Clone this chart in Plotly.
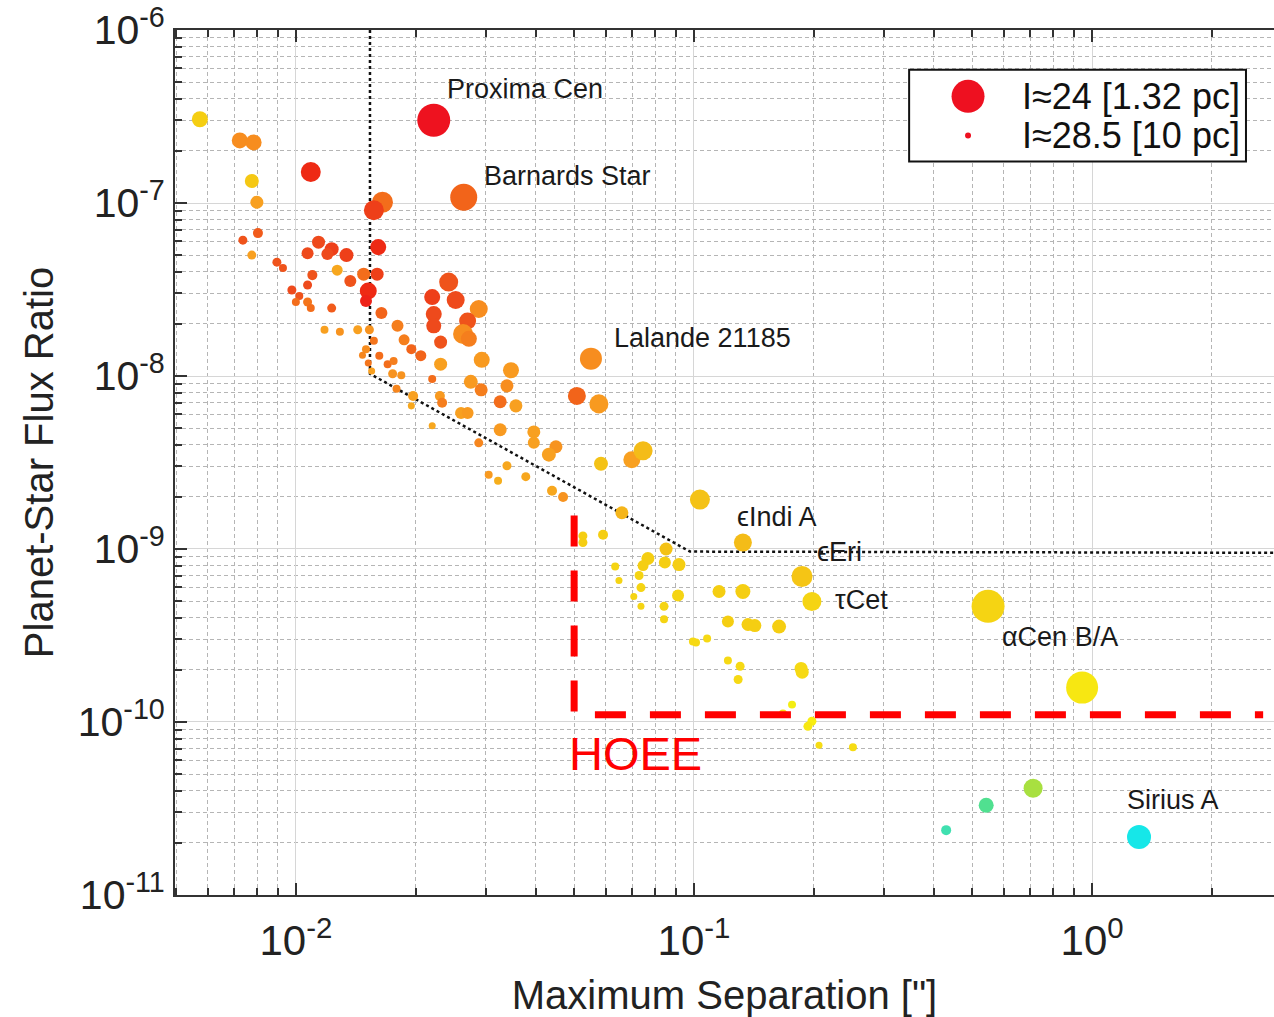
import numpy as np
import plotly.graph_objects as go

# ---------------- data ----------------
sep = [  # maximum separation [arcsec]
    5.74e-3, 7.23e-3, 7.83e-3, 7.75e-3, 7.98e-3, 1.09e-2, 2.22e-2, 2.64e-2, 1.65e-2, 1.57e-2,
    7.36e-3, 8.03e-3, 7.75e-3, 1.61e-2, 1.14e-2, 1.23e-2, 1.07e-2, 1.20e-2, 1.34e-2, 1.27e-2,
    8.96e-3, 9.28e-3, 1.10e-2, 1.07e-2, 1.37e-2, 1.48e-2, 1.60e-2, 9.77e-3, 1.02e-2, 1.00e-2,
    1.07e-2, 1.09e-2, 1.23e-2, 1.52e-2, 1.50e-2, 1.64e-2, 1.80e-2, 2.20e-2, 1.18e-2, 1.29e-2,
    1.43e-2, 1.53e-2, 1.87e-2, 1.95e-2, 2.06e-2, 1.57e-2, 1.50e-2, 1.47e-2, 1.62e-2, 1.52e-2,
    1.55e-2, 1.70e-2, 1.76e-2, 1.75e-2, 1.84e-2, 1.79e-2, 1.97e-2, 1.95e-2, 2.20e-2, 2.20e-2,
    2.42e-2, 2.52e-2, 2.88e-2, 2.22e-2, 2.70e-2, 2.22e-2, 2.63e-2, 2.72e-2, 2.31e-2, 2.93e-2,
    2.31e-2, 3.47e-2, 2.75e-2, 3.39e-2, 2.92e-2, 2.30e-2, 2.33e-2, 3.26e-2, 3.57e-2, 2.60e-2,
    2.70e-2, 5.51e-2, 5.08e-2, 5.77e-2, 3.26e-2, 2.88e-2, 3.96e-2, 3.96e-2, 4.50e-2, 4.32e-2,
    3.39e-2, 3.05e-2, 3.22e-2, 3.78e-2, 4.40e-2, 4.69e-2, 5.84e-2, 6.98e-2, 7.45e-2, 6.59e-2,
    5.26e-2, 5.26e-2, 5.91e-2, 0.1035, 0.1327, 8.51e-2, 7.66e-2, 7.45e-2, 8.45e-2, 9.17e-2,
    6.34e-2, 7.28e-2, 6.48e-2, 7.36e-2, 7.06e-2, 7.36e-2, 8.41e-2, 8.41e-2, 9.12e-2, 0.1868,
    0.1978, 0.1156, 0.1327, 0.1217, 0.1367, 0.1422, 0.1636, 9.94e-2, 0.1012, 0.1079,
    0.1217, 0.1306, 0.1291, 0.1858, 0.1870, 0.1763, 0.1673, 0.1978, 0.1933, 0.2061,
    0.2508, 0.548, 0.944, 0.711, 0.542, 0.430, 1.312]

flux = [  # planet-star flux ratio
    3.05e-7, 2.30e-7, 2.24e-7, 1.34e-7, 1.01e-7, 1.51e-7, 3.01e-7, 1.08e-7, 1.01e-7, 9.08e-8,
    6.10e-8, 6.70e-8, 5.00e-8, 5.56e-8, 5.94e-8, 5.41e-8, 5.13e-8, 5.07e-8, 5.00e-8, 4.09e-8,
    4.55e-8, 4.21e-8, 3.83e-8, 3.36e-8, 3.54e-8, 3.88e-8, 3.88e-8, 3.14e-8, 2.90e-8, 2.68e-8,
    2.68e-8, 2.47e-8, 2.47e-8, 3.10e-8, 2.71e-8, 2.31e-8, 1.95e-8, 2.86e-8, 1.85e-8, 1.80e-8,
    1.85e-8, 1.85e-8, 1.62e-8, 1.43e-8, 1.31e-8, 1.60e-8, 1.43e-8, 1.32e-8, 1.31e-8, 1.19e-8,
    1.07e-8, 1.17e-8, 1.22e-8, 1.03e-8, 1.01e-8, 8.43e-9, 7.67e-9, 6.72e-9, 9.62e-9, 5.15e-9,
    3.49e-8, 2.75e-8, 2.44e-8, 2.28e-8, 2.08e-8, 1.95e-8, 1.75e-8, 1.64e-8, 1.57e-8, 1.24e-8,
    1.17e-8, 1.08e-8, 9.25e-9, 8.77e-9, 8.32e-9, 7.67e-9, 7.00e-9, 7.10e-9, 6.72e-9, 6.12e-9,
    6.12e-9, 1.26e-8, 7.67e-9, 6.90e-9, 4.89e-9, 4.11e-9, 4.75e-9, 4.11e-9, 3.90e-9, 3.51e-9,
    3.03e-9, 2.69e-9, 2.48e-9, 2.62e-9, 2.17e-9, 2.00e-9, 3.11e-9, 3.28e-9, 3.70e-9, 1.62e-9,
    1.19e-9, 1.09e-9, 1.21e-9, 1.93e-9, 1.09e-9, 1.00e-9, 8.81e-10, 8.02e-10, 8.35e-10, 8.13e-10,
    7.91e-10, 7.03e-10, 6.58e-10, 5.98e-10, 5.31e-10, 4.66e-10, 4.66e-10, 3.92e-10, 5.38e-10, 6.93e-10,
    4.97e-10, 5.68e-10, 5.68e-10, 3.81e-10, 3.66e-10, 3.61e-10, 3.56e-10, 2.92e-10, 2.88e-10, 3.04e-10,
    2.27e-10, 2.10e-10, 1.76e-10, 2.04e-10, 1.94e-10, 1.26e-10, 1.12e-10, 1.01e-10, 9.44e-11, 7.34e-11,
    7.14e-11, 4.66e-10, 1.58e-10, 4.14e-11, 3.30e-11, 2.37e-11, 2.16e-11]

imag = [  # planet I-band magnitude (sets marker size)
    26.83, 26.83, 26.83, 27.17, 27.33, 26.17, 24.0, 25.0, 26.0, 26.17,
    28.0, 27.83, 28.0, 26.83, 27.33, 27.17, 27.5, 27.5, 27.17, 27.67,
    28.0, 28.17, 27.83, 28.0, 27.5, 27.33, 27.33, 28.0, 28.17, 28.17,
    28.0, 28.17, 28.0, 26.67, 27.5, 27.5, 27.5, 26.83, 28.17, 28.17,
    28.0, 28.0, 27.67, 27.83, 27.67, 28.17, 28.17, 28.33, 28.17, 28.33,
    28.33, 28.17, 28.17, 28.0, 28.17, 28.17, 27.83, 28.33, 28.17, 28.33,
    26.33, 26.5, 26.5, 26.83, 26.67, 27.0, 26.17, 26.83, 27.33, 26.83,
    27.33, 26.83, 27.17, 27.33, 27.33, 27.83, 27.83, 27.33, 27.33, 27.5,
    27.5, 25.83, 26.5, 26.33, 27.33, 28.0, 27.33, 27.5, 27.33, 27.17,
    28.0, 28.17, 28.17, 28.0, 27.83, 27.83, 27.17, 26.67, 26.33, 27.33,
    28.0, 28.0, 27.83, 26.17, 26.5, 27.33, 27.33, 27.67, 27.5, 27.33,
    28.17, 28.0, 28.33, 28.0, 28.33, 28.33, 28.0, 28.17, 27.5, 26.0,
    26.33, 27.33, 27.0, 27.5, 27.33, 27.33, 27.17, 28.17, 28.17, 28.17,
    28.17, 28.0, 28.0, 27.33, 27.33, 28.17, 28.17, 28.0, 28.0, 28.33,
    28.17, 24.0, 24.17, 26.33, 27.0, 27.83, 25.5]

hue = [  # host-star colour value (red -> cyan)
    50, 30, 30, 48, 36, 8, 2, 20, 22, 12,
    16, 18, 36, 8, 14, 12, 14, 14, 12, 38,
    16, 16, 16, 14, 16, 22, 12, 14, 16, 22,
    24, 22, 18, 8, 6, 20, 26, 12, 36, 32,
    36, 32, 26, 20, 20, 24, 30, 28, 22, 24,
    36, 22, 26, 32, 32, 28, 36, 38, 22, 38,
    16, 14, 30, 14, 16, 14, 30, 26, 16, 34,
    36, 34, 34, 30, 26, 34, 26, 22, 36, 36,
    34, 30, 20, 34, 34, 28, 36, 36, 32, 36,
    38, 34, 40, 38, 38, 32, 46, 36, 44, 42,
    50, 50, 50, 46, 44, 46, 50, 50, 50, 50,
    52, 52, 52, 52, 52, 52, 52, 52, 52, 47,
    52, 50, 50, 50, 50, 50, 50, 54, 54, 54,
    54, 54, 54, 54, 54, 62, 55, 60, 58, 55,
    55, 52, 58, 90, 145, 160, 182]

limit_x = [0.01535, 0.01535, 0.0977, 3.0]
limit_y = [1e-6, 1.03e-8, 9.66e-10, 9.5e-10]

hoee_x = [0.05, 0.05, 2.69]
hoee_y = [1.56e-9, 1.10e-10, 1.10e-10]

label_text = ["Proxima Cen", "Barnards Star", "Lalande 21185", "ϵIndi A", "ϵEri",
              "τCet", "αCen B/A", "Sirius A"]
label_x = [0.02366, 0.0293, 0.0622, 0.1268, 0.2014, 0.2234, 0.587, 1.21]
label_y = [4.54e-7, 1.43e-7, 1.66e-8, 1.54e-9, 9.66e-10, 5.04e-10, 3.08e-10, 3.53e-11]

legend_labels = ["I≈24 [1.32 pc]", "I≈28.5 [10 pc]"]
legend_mag = [24.0, 28.5]

xtick_vals = [1e-2, 1e-1, 1e0]
xtick_text = ["10<sup>-2</sup>", "10<sup>-1</sup>", "10<sup>0</sup>"]
ytick_vals = [1e-11, 1e-10, 1e-9, 1e-8, 1e-7, 1e-6]
ytick_text = ["10<sup>-11</sup>", "10<sup>-10</sup>", "10<sup>-9</sup>",
              "10<sup>-8</sup>", "10<sup>-7</sup>", "10<sup>-6</sup>"]

# ---------------- styling helpers ----------------
def mag_to_size(m):
    return 33.0 - (np.asarray(m, dtype=float) - 24.0) * 6.0

HMAX = 185.0
colorscale = [
    [0 / HMAX, "#EE0A22"], [8 / HMAX, "#EE2A14"], [14 / HMAX, "#EE4A1C"],
    [20 / HMAX, "#F2641A"], [28 / HMAX, "#F6861E"], [36 / HMAX, "#F8A020"],
    [44 / HMAX, "#F4BC18"], [50 / HMAX, "#F5CE12"], [55 / HMAX, "#F6DC14"],
    [60 / HMAX, "#F8EE10"], [90 / HMAX, "#A8E040"], [145 / HMAX, "#50E090"],
    [160 / HMAX, "#40E0B0"], [1.0, "#10E8F0"],
]

FONT = "Liberation Sans, Arial, sans-serif"

fig = go.Figure()

fig.add_trace(go.Scatter(
    x=limit_x, y=limit_y, mode="lines",
    line=dict(color="#111111", width=2.5, dash="3px,3px"),
    showlegend=False, hoverinfo="skip"))

fig.add_trace(go.Scatter(
    x=sep, y=flux, mode="markers",
    marker=dict(size=mag_to_size(imag), color=hue, colorscale=colorscale,
                cmin=0, cmax=HMAX, line=dict(width=0), opacity=1),
    showlegend=False))

fig.add_trace(go.Scatter(
    x=hoee_x, y=hoee_y, mode="lines",
    line=dict(color="#FF0000", width=7, dash="31px,24px"),
    showlegend=False, hoverinfo="skip"))

annotations = []
for t, lx, ly in zip(label_text, label_x, label_y):
    annotations.append(dict(x=np.log10(lx), y=np.log10(ly), xref="x", yref="y",
                            text=t, showarrow=False, xanchor="left", yanchor="middle",
                            font=dict(family=FONT, size=27, color="#1a1a1a")))
annotations.append(dict(x=np.log10(0.048), y=np.log10(6.6e-11), xref="x", yref="y",
                        text="HOEE", showarrow=False, xanchor="left", yanchor="middle",
                        font=dict(family=FONT, size=47, color="#FF0000")))

# legend (drawn manually so the marker sizes match the data scale)
shapes = [dict(type="rect", xref="paper", yref="paper", x0=0.668, x1=0.9745,
               y0=0.848, y1=0.954, line=dict(color="#111111", width=2),
               fillcolor="white", layer="above")]
leg_y = [0.9233, 0.878]
for lab, m, yy in zip(legend_labels, legend_mag, leg_y):
    r = float(mag_to_size(m)) / 2.0
    shapes.append(dict(type="circle", xref="paper", yref="paper",
                       xsizemode="pixel", ysizemode="pixel",
                       xanchor=0.7216, yanchor=yy, x0=-r, x1=r, y0=-r, y1=r,
                       fillcolor="#EE1020", line=dict(width=0), layer="above"))
    annotations.append(dict(x=0.7685, y=yy, xref="paper", yref="paper", text=lab,
                            showarrow=False, xanchor="left", yanchor="middle",
                            font=dict(family=FONT, size=36, color="#111111")))

def minor_vals(lo, hi):
    vals = []
    for e in range(lo, hi):
        for k in range(2, 10):
            vals.append(k * 10.0 ** e)
    return vals

axis_common = dict(
    type="log", showline=True, linecolor="#333333", linewidth=2,
    ticks="inside", ticklen=12, tickwidth=1.5, tickcolor="#333333",
    showgrid=True, gridcolor="#d6d6d6", gridwidth=1, zeroline=False,
    ticklabeloverflow="allow",
)

fig.update_xaxes(
    **axis_common,
    tickfont=dict(family=FONT, size=42, color="#222222"),
    range=[np.log10(0.00497), 0.457],
    tickmode="array", tickvals=xtick_vals, ticktext=xtick_text,
    mirror="allticks", ticklabelstandoff=8,
    minor=dict(tickmode="array", tickvals=minor_vals(-3, 1), ticks="inside", ticklen=7,
               tickcolor="#333333", showgrid=True, gridcolor="#b5b5b5",
               griddash="4px,3px", gridwidth=1),
    title=dict(text="Maximum Separation [\"]", standoff=22,
               font=dict(family=FONT, size=40, color="#222222")),
)
fig.update_yaxes(
    **axis_common,
    tickfont=dict(family=FONT, size=41, color="#222222"),
    range=[-11.0002, -5.9998],
    tickmode="array", tickvals=ytick_vals, ticktext=ytick_text,
    mirror=False,
    minor=dict(tickmode="array", tickvals=minor_vals(-11, -6), ticks="inside", ticklen=7,
               tickcolor="#333333", showgrid=True, gridcolor="#b5b5b5",
               griddash="4px,3px", gridwidth=1),
    title=dict(text="Planet-Star Flux Ratio", standoff=12,
               font=dict(family=FONT, size=40, color="#222222")),
)

fig.update_layout(
    width=1274, height=1017,
    margin=dict(l=175, r=0, t=30, b=122, autoexpand=False),
    paper_bgcolor="white", plot_bgcolor="white",
    annotations=annotations, shapes=shapes,
    showlegend=False,
)

fig.write_html("out.html")
